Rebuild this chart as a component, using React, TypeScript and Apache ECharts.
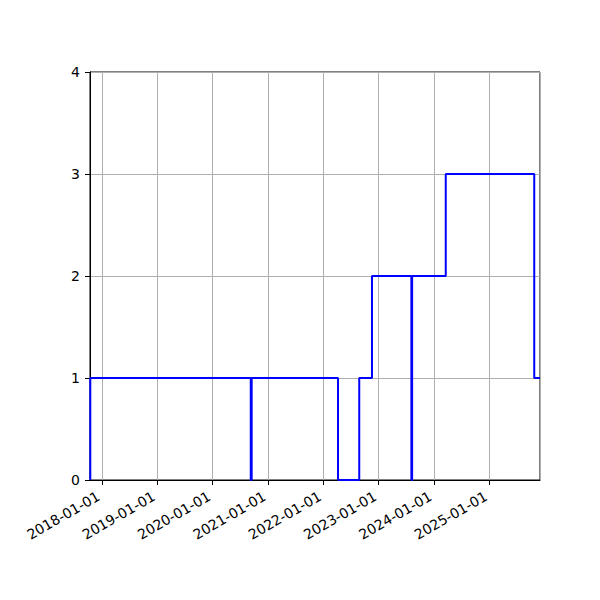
import React, { useRef, useEffect } from 'react';
import * as echarts from 'echarts';

// step points (matplotlib "pre" style: value applies up to its date)
const dates = [
    '2017-10-16',
    '2020-09-09',
    '2020-09-15',
    '2022-04-08',
    '2022-08-26',
    '2022-11-18',
    '2023-08-05',
    '2023-08-10',
    '2024-03-19',
    '2025-10-24',
    '2025-12-01'
];
const counts = [0, 1, 0, 1, 0, 1, 2, 0, 2, 3, 1];

const xMin = '2017-10-14';
const xMax = '2025-12-01';
const yTicks = [0, 1, 2, 3, 4];

const pad = (n: number) => (n < 10 ? '0' + n : '' + n);

const StepChart = () => {
    const chartRef = useRef<HTMLDivElement>(null);

    useEffect(() => {
        const myChart = echarts.init(chartRef.current, null, { renderer: 'svg' });

        const option = {
            animation: false,
            grid: {
                left: 90,
                right: 60,
                top: 72,
                bottom: 120,
                show: true,
                borderColor: '#000',
                borderWidth: 1,
                backgroundColor: 'transparent'
            },
            xAxis: {
                type: 'time',
                min: new Date(xMin).getTime(),
                max: new Date(xMax).getTime(),
                splitNumber: 8,
                minInterval: 365 * 24 * 3600 * 1000,
                axisLine: { lineStyle: { color: '#000', width: 1 } },
                axisTick: { show: true, length: 5, lineStyle: { color: '#000' } },
                splitLine: { show: true, lineStyle: { color: '#b0b0b0', width: 1 } },
                axisLabel: {
                    rotate: 30,
                    margin: 13,
                    padding: [0, 4, 0, 0],
                    color: '#000',
                    fontFamily: 'DejaVu Sans',
                    fontSize: 14,
                    showMinLabel: false,
                    showMaxLabel: false,
                    formatter: (v: number) => {
                        const d = new Date(v);
                        return d.getFullYear() + '-' + pad(d.getMonth() + 1) + '-' + pad(d.getDate());
                    }
                }
            },
            yAxis: {
                type: 'value',
                min: yTicks[0],
                max: yTicks[yTicks.length - 1],
                interval: 1,
                axisLine: { show: true, lineStyle: { color: '#000', width: 1 } },
                axisTick: { show: true, length: 5, lineStyle: { color: '#000' } },
                splitLine: { show: true, lineStyle: { color: '#b0b0b0', width: 1 } },
                axisLabel: {
                    margin: 10,
                    color: '#000',
                    fontFamily: 'DejaVu Sans',
                    fontSize: 14
                }
            },
            series: [
                {
                    type: 'line',
                    step: 'start',
                    showSymbol: false,
                    data: dates.map((d, i) => [new Date(d).getTime(), counts[i]]),
                    lineStyle: { color: '#0000ff', width: 2 },
                    itemStyle: { color: '#0000ff' }
                }
            ]
        };

        myChart.setOption(option);

        return () => {
            myChart.dispose();
        };
    }, []);

    return <div ref={chartRef} style={{ width: '600px', height: '600px', margin: '-8px' }} />;
};

export default function App() {
    return <StepChart />;
}
